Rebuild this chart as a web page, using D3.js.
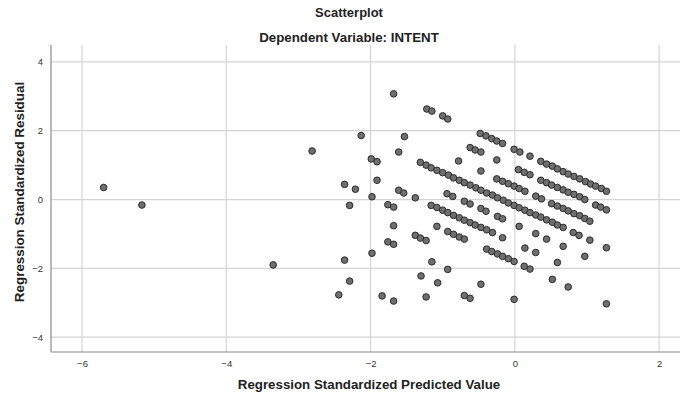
<!DOCTYPE html>
<html>
<head>
<meta charset="utf-8">
<script src="https://cdn.jsdelivr.net/npm/d3@7/dist/d3.min.js"></script>
<style>
  html, body { margin: 0; padding: 0; background: #fff; }
  svg { display: block; font-family: "Liberation Sans", Arial, sans-serif; }
</style>
</head>
<body>
<svg id="chart" width="680" height="397"></svg>
<script>
// Regression standardized predicted values (x) and standardized residuals (y)
const predicted = [
  -5.70, -5.17, -3.35, -2.81, -2.44, -2.36, -2.36, -2.29, -2.29, -2.21,
  -2.13, -1.99, -1.91, -1.91, -1.98, -1.98, -1.84, -1.76, -1.68, -1.68,
  -1.68, -1.68, -1.76, -1.68, -1.61, -1.61, -1.54, -1.53, -1.38, -1.38,
  -1.31, -1.23, -1.30, -1.23, -1.22, -1.15, -1.15, -1.08, -1.07, -1.00,
  -0.93, -0.94, -0.86, -0.93, -0.85, -0.77, -0.70, -0.93, -0.78, -0.70,
  -0.62, -0.70, -0.62, -0.62, -0.55, -0.47, -0.48, -0.40, -0.32, -0.25,
  -0.17, -0.47, -0.47, -0.40, -0.47, -0.39, -0.32, -0.24, -0.17, -0.09,
  -0.01, -0.25, -0.25, -0.17, -0.09, -0.01, 0.06, 0.14, -0.24, -0.17,
  -0.17, -0.01, 0.07, -0.01, 0.05, 0.13, 0.21, 0.06, 0.13, 0.21,
  0.14, 0.21, 0.29, 0.29, 0.29, 0.37,
  0.36, 0.44, 0.52, 0.59, 0.67, 0.74, 0.82, 0.90, 0.98, 1.05, 1.12, 1.20, 1.27,
  0.36, 0.44, 0.51, 0.59, 0.67, 0.74, 0.82, 0.90, 0.97,
  0.44, 0.51, 0.59, 0.67, 0.74, 0.82, 0.90, 0.97, 1.04,
  0.52, 0.59, 0.67, 0.74, 0.81, 0.89, 0.97, 1.04, 1.12, 1.19, 1.27, 1.27, 1.27,
  -1.31, -1.23, -1.16, -1.08, -1.00, -0.92, -0.85, -0.77, -0.70, -0.62,
  -0.54, -0.47, -0.39, -0.31, -0.24, -0.16, -0.09, -0.01, 0.06, 0.14,
  0.21, 0.29, 0.36, 0.44, 0.52, 0.59, 0.67,
  -1.16, -1.08, -1.00, -0.93, -0.85, -0.77, -0.70, -0.62, -0.55, -0.47, -0.39, -0.31
];
const residual = [
  0.35, -0.16, -1.90, 1.41, -2.77, 0.44, -1.76, -0.17, -2.37, 0.30,
  1.86, 1.18, 1.10, 0.56, 0.08, -1.56, -2.80, -0.15, -0.22, 3.07,
  -0.76, -2.95, -1.23, -1.30, 1.38, 0.27, 0.19, 1.83, 0.05, -1.04,
  -1.12, -1.19, -2.22, -2.83, 2.63, 2.57, -1.81, -0.78, -2.42, 2.43,
  2.34, 0.17, 0.09, -0.93, -1.01, -1.09, -1.15, -2.03, 1.12, -0.05,
  -0.13, -2.79, -2.87, 1.51, 1.44, 1.38, 1.92, 1.85, 1.77, 1.70,
  1.63, 0.83, -0.26, -0.34, -2.46, -1.44, -1.51, -1.58, -1.65, -1.72,
  -1.80, 1.15, 0.60, 0.53, 0.46, 0.39, 0.32, 0.24, -0.49, -0.56,
  -1.11, 1.46, 1.38, -2.90, 0.87, 0.79, 0.72, -0.78, -1.94, -2.02,
  -1.41, 1.26, -0.99, -1.54, 0.10, 0.02,
  1.11, 1.03, 0.97, 0.89, 0.81, 0.74, 0.67, 0.60, 0.52, 0.45, 0.39, 0.32, 0.24,
  0.56, 0.49, 0.42, 0.35, 0.28, 0.21, 0.15, 0.08, 0.00,
  -1.15, -0.12, -0.19, -0.26, -0.33, -0.41, -0.47, -0.55, -0.63,
  -2.32, -1.83, -1.36, -2.54, -0.96, -1.04, -1.65, -1.18, -0.16, -0.22, -0.30, -1.40, -3.03,
  1.08, 1.00, 0.92, 0.85, 0.78, 0.71, 0.63, 0.56, 0.49, 0.42,
  0.34, 0.27, 0.19, 0.13, 0.05, -0.02, -0.10, -0.17, -0.24, -0.31,
  -0.38, -0.45, -0.51, -0.59, -0.66, -0.74, -0.81,
  -0.17, -0.23, -0.31, -0.38, -0.46, -0.53, -0.60, -0.67, -0.74, -0.81, -0.88, -0.96
];
const xTicks = [-6, -4, -2, 0, 2];
const yTicks = [-4, -2, 0, 2, 4];
const xDomain = [-6.43, 2.29];
const yDomain = [-4.43, 4.49];

const svg = d3.select("#chart");
const plot = { left: 51, right: 680, top: 45, bottom: 352 };

const x = d3.scaleLinear().domain(xDomain).range([plot.left, plot.right]);
const y = d3.scaleLinear().domain(yDomain).range([plot.bottom, plot.top]);

// Gridlines
const grid = svg.append("g").attr("stroke", "#d4d4d4").attr("stroke-width", 1.2);
grid.selectAll("line.gx").data(xTicks).join("line")
  .attr("x1", d => x(d)).attr("x2", d => x(d))
  .attr("y1", plot.top).attr("y2", plot.bottom);
grid.selectAll("line.gy").data(yTicks).join("line")
  .attr("y1", d => y(d)).attr("y2", d => y(d))
  .attr("x1", plot.left).attr("x2", plot.right);

// Axes (tick labels only, no tick marks)
const xAxis = svg.append("g")
  .attr("transform", `translate(0,${plot.bottom})`)
  .call(d3.axisBottom(x).tickValues(xTicks).tickSize(0).tickPadding(8));
const yAxis = svg.append("g")
  .attr("transform", `translate(${plot.left},0)`)
  .call(d3.axisLeft(y).tickValues(yTicks).tickSize(0).tickPadding(8));
[xAxis, yAxis].forEach(a => {
  a.select(".domain").attr("stroke", "#8a8a8a").attr("stroke-width", 1.2);
  a.selectAll("text")
    .attr("font-family", "'Liberation Sans', Arial, sans-serif")
    .attr("font-size", 9.5).attr("fill", "#333");
});
yAxis.select(".domain").attr("d", `M0,${plot.top}V${plot.bottom}`);
xAxis.select(".domain").attr("d", `M${plot.left},0H${plot.right}`);

// Points
svg.append("g").selectAll("circle")
  .data(predicted.map((p, i) => [p, residual[i]]))
  .join("circle")
  .attr("cx", d => x(d[0]))
  .attr("cy", d => y(d[1]))
  .attr("r", 3.3)
  .attr("fill", "#6f6f6f")
  .attr("stroke", "#2b2b2b")
  .attr("stroke-width", 1);

// Titles
svg.append("text").attr("x", 349).attr("y", 17).attr("text-anchor", "middle")
  .attr("font-size", 13).attr("font-weight", "bold").attr("fill", "#222")
  .text("Scatterplot");
svg.append("text").attr("x", 349).attr("y", 42).attr("text-anchor", "middle")
  .attr("font-size", 13.3).attr("font-weight", "bold").attr("fill", "#222")
  .text("Dependent Variable: INTENT");
svg.append("text").attr("x", 369).attr("y", 389).attr("text-anchor", "middle")
  .attr("font-size", 13.3).attr("font-weight", "bold").attr("fill", "#222")
  .text("Regression Standardized Predicted Value");
svg.append("text")
  .attr("transform", `translate(24,192) rotate(-90)`)
  .attr("text-anchor", "middle")
  .attr("font-size", 13.4).attr("font-weight", "bold").attr("fill", "#222")
  .text("Regression Standardized Residual");
</script>
</body>
</html>
